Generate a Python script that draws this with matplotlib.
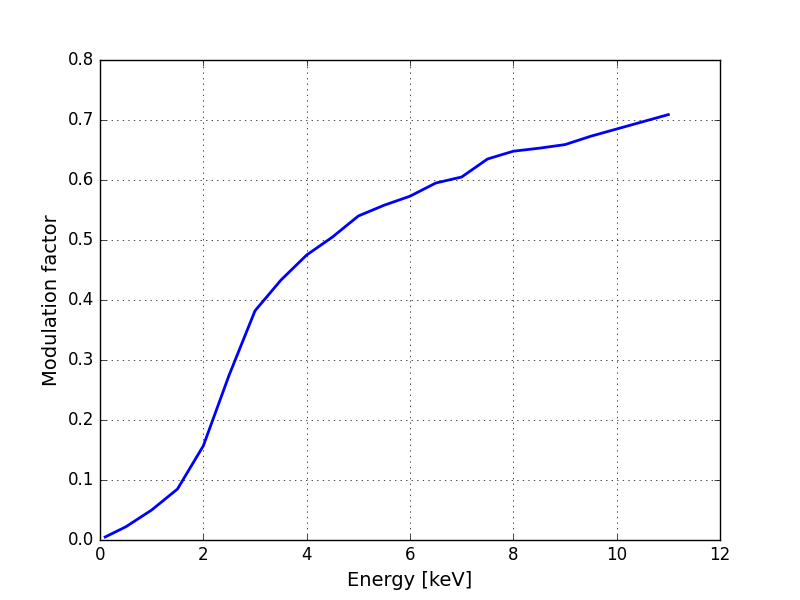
import matplotlib
matplotlib.use('Agg')
from matplotlib import pyplot as plt

energy = [0.1, 0.5, 1.0, 1.5, 2.0, 2.5, 3.0, 3.5, 4.0, 4.5, 5.0, 5.5, 6.0,
          6.5, 7.0, 7.5, 8.0, 8.5, 9.0, 9.5, 10.0, 10.5, 11.0]
modf = [0.005, 0.022, 0.05, 0.085, 0.157, 0.275, 0.382, 0.433, 0.475, 0.505,
        0.54, 0.558, 0.573, 0.595, 0.605, 0.635, 0.648, 0.653, 0.659, 0.673,
        0.685, 0.697, 0.709]

plt.style.use('classic')
fig = plt.figure(figsize=(8, 6), dpi=100, facecolor='white')
ax = fig.add_subplot(111)
ax.plot(energy, modf, color='blue', lw=2)
ax.set_xlim(0, 12)
ax.set_ylim(0, 0.8)
ax.set_xlabel('Energy [keV]', fontsize=14)
ax.set_ylabel('Modulation factor', fontsize=14)
ax.grid(True)
fig.savefig('out.png', dpi=100, facecolor='white')
